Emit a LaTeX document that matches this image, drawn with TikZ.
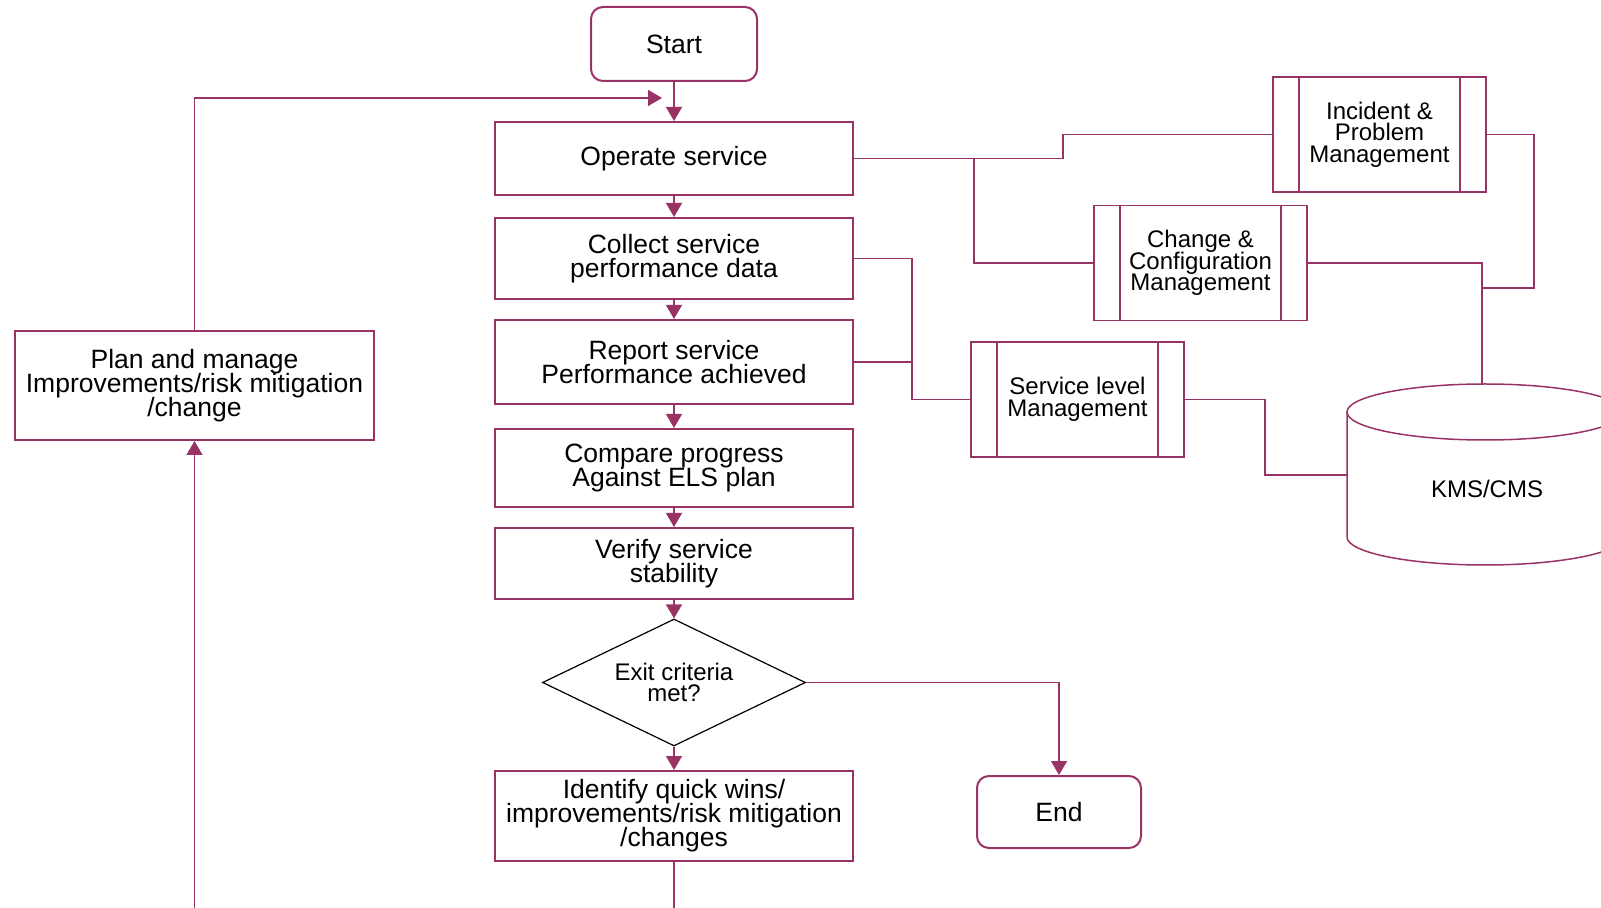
\documentclass[tikz,border=0pt]{standalone}
\usepackage{fontspec}
\setmainfont{Liberation Sans}
\usetikzlibrary{arrows.meta,shapes.geometric}
\definecolor{plum}{RGB}{153,51,102}
\newcommand\mainsz{\fontsize{13.25}{12}\selectfont\lineskiplimit=-20pt\relax}
\newcommand\sidesz{\fontsize{12}{10.75}\selectfont\lineskiplimit=-20pt\relax}
\tikzset{
  box/.style={draw=plum, line width=1pt, rectangle, inner sep=0pt, align=center,
    font=\mainsz, minimum width=179pt},
  term/.style={box, rounded corners=6pt, minimum width=83pt, minimum height=37pt},
  decision/.style={shape=diamond, aspect=2, draw=black, line width=0.6pt, inner sep=0pt,
    minimum width=131.5pt, minimum height=63.5pt, align=center, font=\sidesz},
  proc/.style={draw=plum, line width=0.9pt, rectangle, inner sep=0pt, align=center,
    font=\sidesz, minimum width=106.5pt, minimum height=57.5pt,
    path picture={
      \draw[plum, line width=0.9pt]
        ([xshift=13pt]path picture bounding box.north west) --
        ([xshift=13pt]path picture bounding box.south west)
        ([xshift=-13pt]path picture bounding box.north east) --
        ([xshift=-13pt]path picture bounding box.south east);
    }},
  link/.style={draw=plum, line width=0.75pt},
  flow/.style={link, -{Triangle[length=7pt,width=8pt]}},
}
\begin{document}
\begin{tikzpicture}[x=0.5pt,y=-0.5pt]
\path[use as bounding box] (0,0) rectangle (1601,908);
\clip (0,0) rectangle (1601,908);

% main flow
\node[term] (start) at (674,44) {Start};
\node[box, minimum height=36.5pt] (operate) at (674,158.5) {Operate service};
\node[box, minimum height=40.5pt] (collect) at (674,258.5) {Collect service\\performance data};
\node[box, minimum height=42pt] (report) at (674,362) {Report service\\Performance achieved};
\node[box, minimum height=39pt] (compare) at (674,468) {Compare progress\\Against ELS plan};
\node[box, minimum height=35.5pt] (verify) at (674,563.5) {Verify service\\stability};
\node[decision] (exit) at (674,682.5) {Exit criteria\\met?};
\node[box, minimum height=45pt] (identify) at (674,816) {Identify quick wins/\\improvements/risk mitigation\\/changes};
\node[term, minimum width=82pt, minimum height=36pt] (end) at (1059,812) {End};
\node[box, minimum width=179.5pt, minimum height=54.5pt] (plan) at (194.5,385.5) {Plan and manage\\Improvements/risk mitigation\\/change};

% supporting processes
\node[proc] (incident) at (1379.5,134.5) {Incident \&\\Problem\\Management};
\node[proc] (change) at (1200.5,263) {Change \&\\Configuration\\Management};
\node[proc] (slm) at (1077.5,399.5) {Service level\\Management};

% knowledge store (cylinder)
\draw[link] (1347,412) -- (1347,537)
  arc[start angle=180, end angle=0, x radius=138, y radius=28] -- (1623,412);
\draw[link] (1485,412) ellipse [x radius=138, y radius=28];
\node[font=\sidesz] (kms) at (1487,489) {KMS/CMS};
\coordinate (kmsW) at (1347,475);
\coordinate (kmsT) at (1482,384);

% vertical flow arrows
\draw[flow] (start) -- (operate);
\draw[flow] (operate) -- (collect);
\draw[flow] (collect) -- (report);
\draw[flow] (report) -- (compare);
\draw[flow] (compare) -- (verify);
\draw[flow] (verify) -- (exit);
\draw[flow] (exit) -- (identify);
\draw[flow] (exit.east) -| (end.north);

% feedback loop
\coordinate (fbtip) at (662,98);
\coordinate (loopB) at (194.5,940);
\draw[flow] (plan.north) |- (fbtip);
\draw[flow] (identify.south) |- (loopB) -- (plan.south);

% links to supporting processes
\coordinate (j1) at (974,158.5);
\coordinate (bus) at (912,0);
\draw[link] (operate.east) -- (j1) |- (change.west);
\draw[link] (j1) -- (1063,158.5) |- (incident.west);
\draw[link] (collect.east) -- (collect.east -| bus) |- (slm.west);
\draw[link] (report.east) -- (report.east -| bus);
\draw[link] (slm.east) -- (1265,399.5) |- (kmsW);
\draw[link] (change.east) -| (kmsT);
\draw[link] (incident.east) -- (1534,134.5) |- (1482,288);
\end{tikzpicture}
\end{document}
